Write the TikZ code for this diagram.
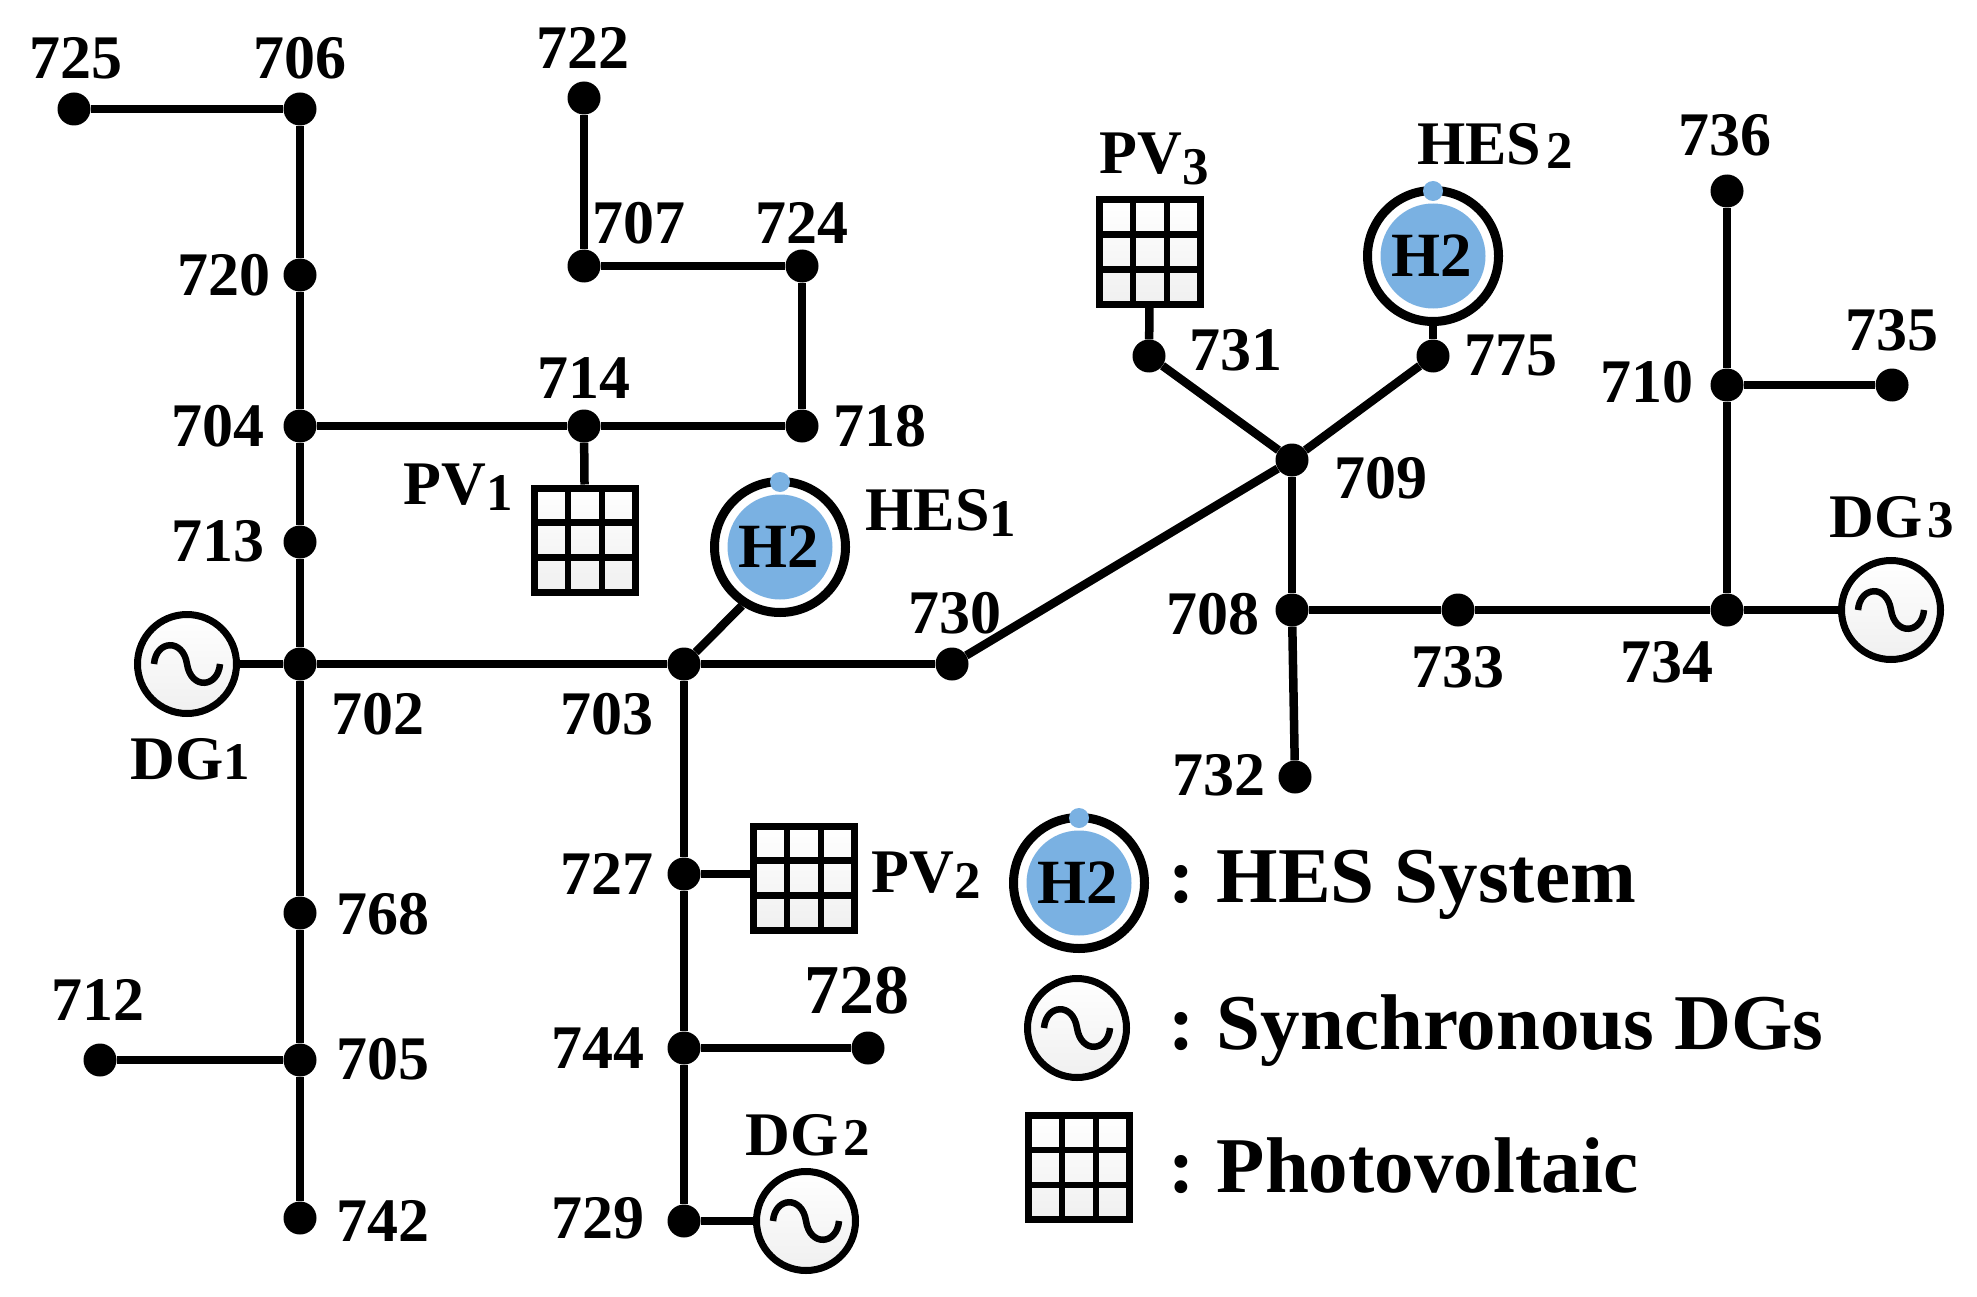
\documentclass[tikz,border=0pt]{standalone}
\usepackage{fontspec}
\setmainfont{Liberation Serif}
\definecolor{hesblue}{HTML}{7AB1E2}
\tikzset{
  lab/.style={inner sep=0pt,font=\fontsize{62}{62}\selectfont\bfseries},
  leg/.style={inner sep=0pt,anchor=base west,font=\fontsize{79}{79}\selectfont\bfseries},
  bus/.style={circle,fill=black,inner sep=0pt,minimum size=33pt},
  conn/.style={line width=8.5pt,black},
  dg/.style={circle,draw=black,line width=7pt,inner sep=0pt,minimum size=99pt,
    top color=white,bottom color=black!6,
    path picture={\draw[line width=6.5pt,shift={(path picture bounding box.center)}]
      (-33,0) .. controls (-31,-24) and (-4,-26) .. (0,0) .. controls (4,26) and (31,24) .. (33,0);}},
  pv/.style={rectangle,draw=black,line width=7pt,inner sep=0pt,minimum width=101pt,minimum height=104pt,
    top color=white,bottom color=black!6,
    path picture={\draw[line width=6.5pt]
      ([xshift=-17pt]path picture bounding box.north) -- ([xshift=-17pt]path picture bounding box.south)
      ([xshift=17pt]path picture bounding box.north) -- ([xshift=17pt]path picture bounding box.south)
      ([yshift=17.5pt]path picture bounding box.west) -- ([yshift=17.5pt]path picture bounding box.east)
      ([yshift=-17.5pt]path picture bounding box.west) -- ([yshift=-17.5pt]path picture bounding box.east);}},
  hesring/.style={circle,draw=black,fill=white,line width=9pt,inner sep=0pt,minimum size=131pt},
  hescore/.style={circle,fill=hesblue,inner sep=0pt,minimum size=105pt,font=\fontsize{63}{63}\selectfont\bfseries},
  hesdot/.style={circle,fill=hesblue,inner sep=0pt,minimum size=20pt},
}
\newcommand{\sbs}[2][-6pt]{\raisebox{#1}{\fontsize{53}{53}\selectfont #2}}
\newcommand{\hesunit}[2]{%
  \node[hesring] (#1) at (#2) {};
  \node[hescore] (#1c) at (#2) {H2\kern3pt};
  \node[hesdot,yshift=65pt] (#1d) at (#2) {};
}
\begin{document}
\begin{tikzpicture}[x=1pt,y=-1pt]
\useasboundingbox (0,0) rectangle (1977,1297);
% buses
\foreach \n/\x/\y in {725/74/109,706/300/109,720/300/275,704/300/426,713/300/542,702/300/664,768/300/913,705/300/1060,742/300/1218,712/100/1060,722/584/98,707/584/266,724/802/266,718/802/426,714/584/426,703/684/664,730/952/664,709/1292/460,731/1149/356,775/1433/356,708/1292/610,733/1458/610,734/1727/610,710/1727/385,736/1727/191,735/1892/385,732/1295/777,727/684/874,744/684/1048,728/868/1048,729/684/1221}
  \node[bus] (n\n) at (\x,\y) {};
% sources
\node[dg] (dg1) at (187,664) {};
\node[dg] (dg2) at (806,1221) {};
\node[dg] (dg3) at (1891,610) {};
\node[pv] (pv1) at (585,540) {};
\node[pv] (pv2) at (804,878) {};
\node[pv] (pv3) at (1150,252) {};
\hesunit{hes1}{780,547}
\hesunit{hes2}{1433,256}
% connectors
\foreach \a/\b in {n725/n706,n706/n720,n720/n704,n704/n713,n713/n702,n702/n768,n768/n705,n705/n742,n712/n705,dg1/n702,n702/n703,n703/n730,n730/n709,n703/n727,n727/n744,n744/n729,n729/dg2,n744/n728,n704/n714,n714/n718,n718/n724,n724/n707,n707/n722,n714/pv1,n731/n709,n775/n709,n731/pv3,n775/hes2,n709/n708,n708/n733,n733/n734,n734/dg3,n734/n710,n710/n736,n710/n735,n708/n732}
  \draw[conn] (\a) -- (\b);
\draw[conn] (n703) -- (hes1.237);
\draw[conn] (n727) -- (n727 -| pv2.west);
% bus labels
\foreach \n/\x/\y in {725/76/58,706/300/58,720/224/275,704/218/426,713/218/541,702/378/714,703/607/714,714/584/378,718/880/426,722/583/48,707/639/223,724/802/223,730/955/613,731/1236/350,775/1511/356,709/1381/478,708/1213/614,733/1458/667,734/1667/662,710/1647/382,736/1725/135,735/1892/330,732/1219/775,727/607/874,744/598/1048,729/598/1218,768/383/914,705/383/1059,742/383/1221,712/98/1000}
  \node[lab] (l\n) at (\x,\y) {\n};
\node[lab,font=\fontsize{70}{70}\selectfont\bfseries] (l728) at (857,991) {728};
% source labels
\node[lab] (ldg1) at (190,759) {DG\sbs[0pt]{1}};
\node[lab] (ldg2) at (808,1135) {DG\kern5pt\sbs[0pt]{2}};
\node[lab] (ldg3) at (1892,517) {DG\kern5pt\sbs[0pt]{3}};
\node[lab] (lpv1) at (458,487) {PV\sbs{1}};
\node[lab] (lpv2) at (926,875) {PV\sbs{2}};
\node[lab] (lpv3) at (1154,159) {PV\sbs[-11pt]{3}};
\node[lab] (lhes1) at (941,513) {HES\sbs{1}};
\node[lab] (lhes2) at (1495,146) {HES\kern5pt\sbs[-4pt]{2}};
% legend
\hesunit{leghes}{1079,883}
\node[dg] (legdg) at (1077,1028) {};
\node[pv] (legpv) at (1079,1167.5) {};
\node[leg] (t1) at (1168,902) {: \kern-4pt HES System};
\node[leg] (t2) at (1168,1049) {: \kern-4pt Synchronous DGs};
\node[leg] (t3) at (1168,1192) {: \kern-4pt Photovoltaic};
\end{tikzpicture}
\end{document}
